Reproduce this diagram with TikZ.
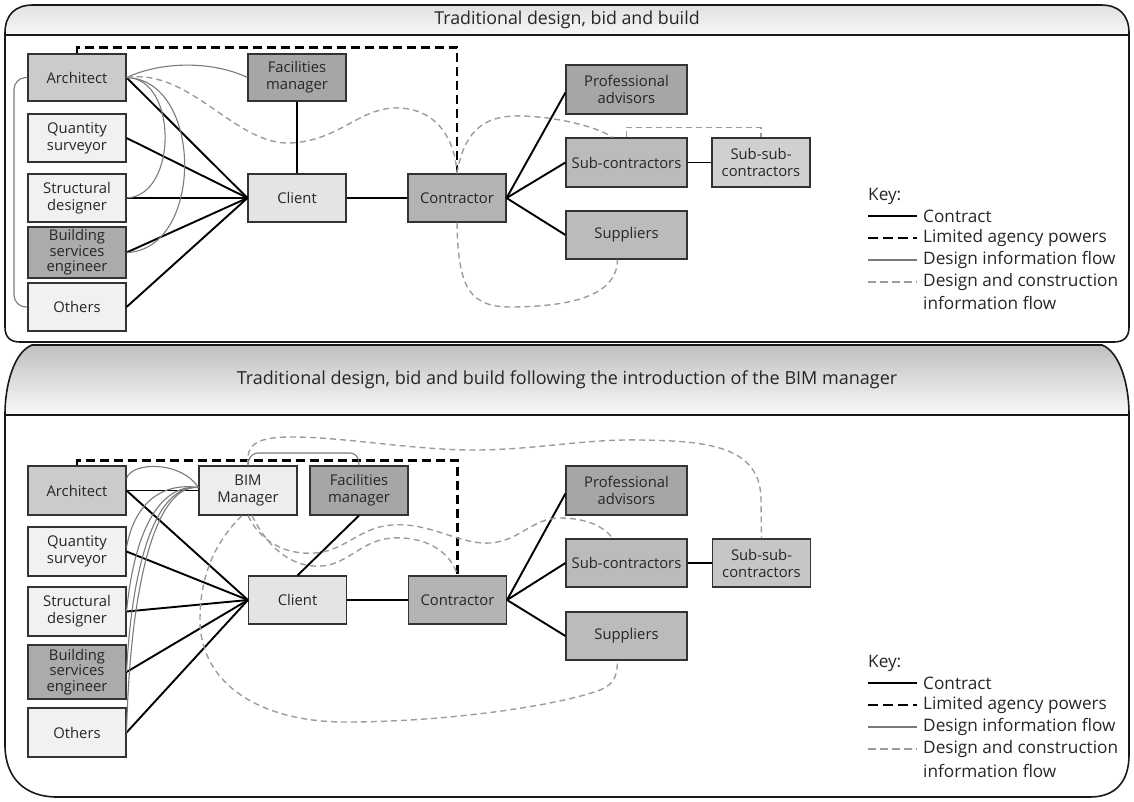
\documentclass[tikz,border=0pt]{standalone}
\usepackage{fontspec}
\setmainfont{Open Sans}
\usetikzlibrary{calc}
\definecolor{cArch}{HTML}{CBCBCB}
\definecolor{cLight}{HTML}{F1F1F1}
\definecolor{cBSE}{HTML}{ABABAB}
\definecolor{cDark}{HTML}{A6A6A6}
\definecolor{cClient}{HTML}{E4E4E4}
\definecolor{cCont}{HTML}{B3B3B3}
\definecolor{cSub}{HTML}{BBBBBB}
\definecolor{cSubsubA}{HTML}{D0D0D0}
\definecolor{cSubsubB}{HTML}{C6C6C6}
\definecolor{cBIM}{HTML}{EDEDED}
\definecolor{cDinfo}{HTML}{7A7A7A}
\definecolor{cDC}{HTML}{9C9C9C}
\begin{document}
\begin{tikzpicture}[x=1pt,y=-1pt,
  box/.style={draw=black!80, line width=1.1pt, align=center, inner sep=0pt,
    minimum width=98pt, minimum height=48pt,
    font=\fontsize{14.8}{17}\selectfont, text=black!85},
  tight/.style={font=\fontsize{14.8}{15.5}\selectfont},
  wide/.style={minimum width=121pt},
  contract/.style={line width=1.9pt, black},
  agency/.style={line width=2.2pt, black, dash pattern=on 9pt off 5pt},
  dinfo/.style={line width=1.1pt, cDinfo},
  dcinfo/.style={line width=1.4pt, cDC, dash pattern=on 6pt off 4pt},
  keytxt/.style={anchor=west, font=\fontsize{17.2}{20}\selectfont, inner sep=0pt, text=black!85},
  headtxt/.style={text=black!85, inner sep=0pt},
  panel/.style={line width=1.6pt, black!90},
]
\useasboundingbox (0,0) rectangle (1134,802);

% ---------- top panel frame ----------
\shade[top color=black!12, bottom color=black!3]
  (5,35) -- (5,33) .. controls (5,15) and (15,5) .. (33,5) -- (1101,5)
  .. controls (1119,5) and (1129,15) .. (1129,33) -- (1129,35) -- cycle;
\draw[panel] (5,327) -- (5,33) .. controls (5,15) and (15,5) .. (33,5) -- (1101,5)
  .. controls (1119,5) and (1129,15) .. (1129,33) -- (1129,327)
  .. controls (1129,337) and (1124,342) .. (1114,342) -- (20,342)
  .. controls (10,342) and (5,337) .. (5,327) -- cycle;
\draw[panel] (5,35) -- (1129,35);
\node[headtxt, font=\fontsize{17.8}{19}\selectfont] (h1) at (567,20) {Traditional design, bid and build};

% ---------- bottom panel frame ----------
\shade[top color=black!25, bottom color=black!2]
  (5,415) -- (5,414) .. controls (5,385) and (14,352) .. (32,345) -- (1102,345)
  .. controls (1120,352) and (1129,385) .. (1129,414) -- (1129,415) -- cycle;
\draw[panel] (5,745) -- (5,414) .. controls (5,385) and (14,352) .. (32,345) -- (1102,345)
  .. controls (1120,352) and (1129,385) .. (1129,414) -- (1129,755)
  .. controls (1129,782) and (1115,797) .. (1090,797) -- (57,797)
  .. controls (25,797) and (5,778) .. (5,745) -- cycle;
\draw[panel] (5,415) -- (1129,415);
\node[headtxt, font=\fontsize{18}{19}\selectfont] (h2) at (567,380) {Traditional design, bid and build following the introduction of the BIM manager};

% ---------- top diagram nodes ----------
\node[box, fill=cArch, minimum height=47pt] (arch1) at (77,77.5) {Architect};
\node[box, fill=cLight] (qs1) at (77,138) {Quantity\\surveyor};
\node[box, fill=cLight] (sd1) at (77,198) {Structural\\designer};
\node[box, tight, fill=cBSE, minimum height=51pt] (bse1) at (77,252.5) {Building\\services\\engineer};
\node[box, fill=cLight] (oth1) at (77,307) {Others};
\node[box, fill=cDark, minimum height=47pt] (fac1) at (297,77.5) {Facilities\\manager};
\node[box, fill=cClient] (cli1) at (297,198) {Client};
\node[box, fill=cCont] (con1) at (457,198) {Contractor};
\node[box, wide, fill=cDark, minimum height=49pt] (pa1) at (626.5,89.5) {Professional\\advisors};
\node[box, wide, fill=cSub, minimum height=49pt] (sc1) at (626.5,162.5) {Sub-contractors};
\node[box, fill=cSubsubA, minimum height=49pt] (ssc1) at (761,162.5) {Sub-sub-\\contractors};
\node[box, wide, fill=cSub] (sup1) at (626.5,235) {Suppliers};

% contracts
\foreach \n in {arch1,qs1,sd1,bse1,oth1} \draw[contract] (\n.east) -- (cli1.west);
\draw[contract] (fac1.south) -- (cli1.north);
\draw[contract] (cli1.east) -- (con1.west);
\draw[contract] (con1.east) -- ($(pa1.west)+(0,3)$);
\draw[contract] (con1.east) -- (sc1.west);
\draw[contract] (con1.east) -- (sup1.west);
\draw[contract] (sc1.east) -- (ssc1.west);
% limited agency
\draw[agency] (arch1.north) -- ++(0,-6) -| (con1.north);
% design information flow
\draw[dinfo] (arch1.east) .. controls (165,60) and (215,62) .. (fac1.west);
\draw[dinfo] (arch1.east) .. controls (178,78) and (178,196) .. (sd1.east);
\draw[dinfo] (arch1.east) .. controls (204,80) and (204,250) .. (bse1.east);
\draw[dinfo, rounded corners=12] (arch1.west) -- (14,77.5) -- (14,307) -- (oth1.west);
% design and construction information flow
\draw[dcinfo] (arch1.east) .. controls (190,68) and (235,145) .. (290,143)
  .. controls (340,141) and (360,106) .. (400,108)
  .. controls (438,110) and (455,140) .. (con1.north);
\coordinate (scn1) at ($(sc1.north west)+(47,0)$);
\draw[dcinfo] (con1.north) .. controls (465,125) and (490,115) .. (522,116)
  .. controls (560,117) and (600,128) .. (scn1);
\draw[dcinfo] ($(sc1.north west)+(61,0)$) -- ++(0,-10) -| (ssc1.north);
\coordinate (sups1) at ($(sup1.south)+(-9,0)$);
\draw[dcinfo] (con1.south) .. controls (458,290) and (470,308) .. (515,307)
  .. controls (560,306) and (617,300) .. (sups1);

% key (top)
\node[keytxt] (k1a) at (868,196) {Key:};
\node[keytxt] (k1b) at (923,216) {Contract};
\node[keytxt] (k1c) at (923,238) {Limited agency powers};
\node[keytxt] (k1d) at (923,260) {Design information flow};
\node[keytxt] (k1e) at (923,282) {Design and construction};
\node[keytxt] (k1f) at (923,303) {information flow};
\draw[contract] ($(k1b.west)+(-55,0)$) -- ($(k1b.west)+(-6,0)$);
\draw[agency, line width=2.4pt, dash pattern=on 10pt off 5pt] ($(k1c.west)+(-55,0)$) -- ($(k1c.west)+(-6,0)$);
\draw[dinfo] ($(k1d.west)+(-55,0)$) -- ($(k1d.west)+(-6,0)$);
\draw[dcinfo, dash pattern=on 8pt off 4pt] ($(k1e.west)+(-55,0)$) -- ($(k1e.west)+(-6,0)$);

% ---------- bottom diagram nodes ----------
\node[box, fill=cArch, minimum height=49pt] (arch2) at (77,490.5) {Architect};
\node[box, fill=cLight, minimum height=49pt] (qs2) at (77,551.5) {Quantity\\surveyor};
\node[box, fill=cLight, minimum height=49pt] (sd2) at (77,611.5) {Structural\\designer};
\node[box, tight, fill=cBSE, minimum height=54pt] (bse2) at (77,672) {Building\\services\\engineer};
\node[box, fill=cLight, minimum height=49pt] (oth2) at (77,732.5) {Others};
\node[box, fill=cBIM, minimum height=49pt] (bim2) at (248,490.5) {BIM\\Manager};
\node[box, fill=cDark, minimum height=49pt] (fac2) at (359,490.5) {Facilities\\manager};
\node[box, fill=cClient] (cli2) at (297.5,600) {Client};
\node[box, fill=cCont] (con2) at (457.5,600) {Contractor};
\node[box, wide, fill=cDark, minimum height=49pt] (pa2) at (626.5,490.5) {Professional\\advisors};
\node[box, wide, fill=cSub] (sc2) at (626.5,563) {Sub-contractors};
\node[box, fill=cSubsubB] (ssc2) at (761.5,563) {Sub-sub-\\contractors};
\node[box, wide, fill=cSub] (sup2) at (626.5,636) {Suppliers};

% contracts
\draw[contract] (arch2.east) -- (bim2.west);
\foreach \n in {arch2,qs2,sd2,bse2,oth2} \draw[contract] (\n.east) -- (cli2.west);
\draw[contract] (fac2.south) -- (cli2.north);
\draw[contract] (cli2.east) -- (con2.west);
\draw[contract] (con2.east) -- ($(pa2.west)+(0,3)$);
\draw[contract] (con2.east) -- (sc2.west);
\draw[contract] (con2.east) -- (sup2.west);
\draw[contract] (sc2.east) -- (ssc2.west);
% limited agency
\draw[agency] (arch2.north) -- ++(0,-5) -| (con2.north);
% design information flow
\coordinate (bw) at ($(bim2.west)+(0,-3)$);
\draw[dinfo] ($(arch2.east)+(0,-12)$) .. controls (131,462) and (180,460) .. (bw);
\draw[dinfo] ($(qs2.east)+(0,-4)$) .. controls (134,505) and (160,482) .. (bw);
\draw[dinfo] (sd2.east) .. controls (134,534) and (158,484) .. (bw);
\draw[dinfo] (bse2.east) .. controls (132,563) and (156,484) .. (bw);
\draw[dinfo] (oth2.east) .. controls (130,590) and (154,484) .. (bw);
\draw[dinfo, rounded corners=8] (bim2.north) -- (250,453) -- (358,453) -- (fac2.north);
% design and construction information flow
\draw[dcinfo] (bim2.north) .. controls (246,445) and (255,437) .. (292,437)
  .. controls (345,437) and (420,451) .. (480,450)
  .. controls (540,449) and (585,439) .. (640,440)
  .. controls (705,441) and (761,445) .. (761,500) -- (ssc2.north);
\coordinate (scn2) at ($(sc2.north west)+(47,0)$);
\draw[dcinfo] (bim2.south) .. controls (262,545) and (290,555) .. (315,553)
  .. controls (345,551) and (360,527) .. (392,525)
  .. controls (430,522) and (460,545) .. (490,543)
  .. controls (520,541) and (532,518) .. (560,518)
  .. controls (588,518) and (606,528) .. (scn2);
\draw[dcinfo] ($(bim2.south)+(4,0)$) .. controls (270,552) and (295,568) .. (322,566)
  .. controls (348,564) and (362,540) .. (392,538)
  .. controls (430,536) and (452,555) .. (con2.north);
\coordinate (sups2) at ($(sup2.south)+(-9,0)$);
\draw[dcinfo] ($(bim2.south)+(-6,0)$) .. controls (212,545) and (200,580) .. (200,620)
  .. controls (200,685) and (262,722) .. (345,722)
  .. controls (450,722) and (560,705) .. (600,690)
  .. controls (615,684) and (617,675) .. (sups2);

% key (bottom)
\node[keytxt] (k2a) at (868,663) {Key:};
\node[keytxt] (k2b) at (923,683) {Contract};
\node[keytxt] (k2c) at (923,705) {Limited agency powers};
\node[keytxt] (k2d) at (923,727) {Design information flow};
\node[keytxt] (k2e) at (923,749) {Design and construction};
\node[keytxt] (k2f) at (923,771) {information flow};
\draw[contract] ($(k2b.west)+(-55,0)$) -- ($(k2b.west)+(-6,0)$);
\draw[agency, line width=2.4pt, dash pattern=on 10pt off 5pt] ($(k2c.west)+(-55,0)$) -- ($(k2c.west)+(-6,0)$);
\draw[dinfo] ($(k2d.west)+(-55,0)$) -- ($(k2d.west)+(-6,0)$);
\draw[dcinfo, dash pattern=on 8pt off 4pt] ($(k2e.west)+(-55,0)$) -- ($(k2e.west)+(-6,0)$);
\end{tikzpicture}
\end{document}
